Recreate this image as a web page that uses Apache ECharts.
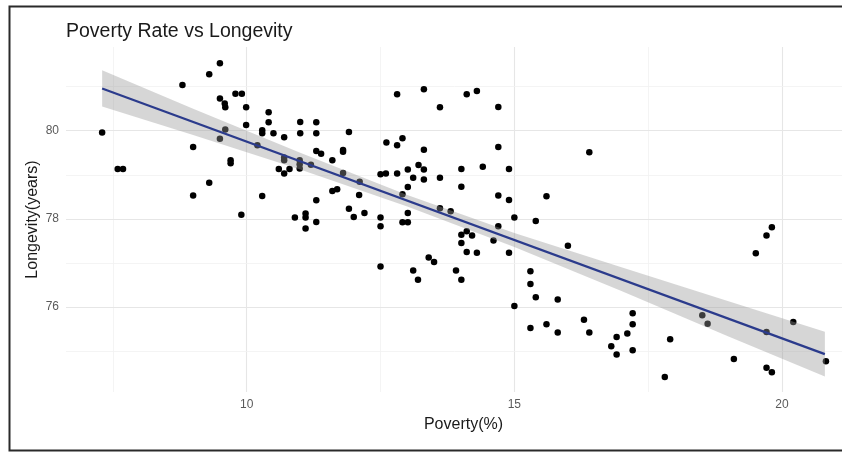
<!DOCTYPE html>
<html>
<head>
<meta charset="utf-8">
<title>Poverty Rate vs Longevity</title>
<script src="https://cdn.jsdelivr.net/npm/echarts@6/dist/echarts.min.js"></script>
<style>
  html, body { margin: 0; padding: 0; background: #ffffff; }
  #chart { width: 842px; height: 452px; }
</style>
</head>
<body>
<div id="chart"></div>
<script>
// Poverty rate (%) per state/county and the matching life expectancy (years)
const poverty = [
  7.30, 7.59, 7.69, 8.80, 9.00, 9.00, 9.30, 9.30, 9.50, 9.50,
  9.59, 9.60, 9.60, 9.50, 9.70, 9.70, 9.79, 9.91, 9.99, 9.99,
  9.90, 10.29, 10.29, 10.29, 10.41, 10.41, 10.50, 10.20, 10.70, 10.60,
  10.70, 10.80, 10.70, 10.70, 11.00, 11.00, 10.99, 10.99, 10.99, 11.30,
  11.30, 11.30, 11.39, 11.20, 11.60, 11.60, 11.69, 11.30, 10.90, 11.10,
  11.10, 11.10, 11.30,
  11.80, 11.80, 11.91, 11.80, 12.11, 12.10, 11.91, 12.00, 12.20, 12.50,
  12.50, 12.50, 12.61, 12.81, 12.81, 12.91, 12.50, 12.60, 12.81, 13.01,
  13.11, 13.01, 12.91, 13.01, 12.91, 13.01, 13.21, 13.31, 13.31, 13.31,
  13.31, 13.61, 13.61, 13.61, 13.81, 13.40, 13.50, 14.01, 14.01, 14.11,
  14.30, 14.41, 14.70, 14.70, 14.70, 14.90, 14.90, 15.00, 14.01, 14.11,
  14.21, 14.01, 14.11, 14.30, 14.61, 14.70, 14.90, 15.40, 15.60, 16.00,
  16.40, 13.11, 13.20, 13.91, 14.01, 15.00, 15.30, 15.30, 15.40, 15.81,
  15.30, 15.60, 15.81, 16.30, 16.40,
  19.51, 19.71, 19.81, 17.21, 17.21, 17.11, 16.91, 16.81, 16.91, 17.21,
  17.91, 17.81, 18.51, 18.61, 19.10, 19.71, 19.71, 19.81, 20.21, 20.82
];
const longevity = [
  79.96, 79.13, 79.13, 81.04, 79.63, 78.53, 81.28, 78.82, 81.53, 80.73,
  80.62, 80.53, 80.03, 79.82, 79.33, 79.26, 80.84, 80.84, 80.53, 80.13,
  78.09, 78.52, 80.01, 79.94, 80.42, 80.19, 79.94, 79.67, 79.85, 79.13,
  79.03, 79.13, 79.39, 79.33, 80.20, 79.94, 79.33, 79.24, 79.14, 80.19,
  79.94, 79.54, 79.48, 79.23, 79.33, 78.63, 78.67, 78.42, 78.03, 78.12,
  78.03, 77.78, 77.93,
  79.56, 79.52, 79.97, 79.04, 78.84, 78.54, 78.23, 78.04, 78.13, 78.03,
  77.83, 76.92, 79.73, 80.83, 79.67, 79.83, 79.01, 79.03, 79.03, 79.12,
  78.93, 78.72, 78.56, 78.13, 77.92, 77.92, 79.22, 79.12, 78.89, 79.57,
  80.94, 80.53, 78.93, 78.24, 78.17, 77.12, 77.02, 79.13, 78.73, 80.83,
  80.90, 79.18, 80.54, 79.63, 78.53, 79.13, 78.43, 78.03, 77.64, 77.72,
  77.62, 77.45, 77.25, 77.23, 77.51, 77.83, 77.23, 77.95, 78.51, 77.39,
  79.51, 76.83, 76.62, 76.83, 76.62, 76.02, 76.81, 76.52, 76.22, 76.17,
  75.52, 75.61, 75.42, 75.71, 75.42,
  77.22, 77.62, 77.81, 75.86, 75.61, 75.40, 75.32, 75.11, 74.92, 75.02,
  75.27, 74.41, 75.81, 75.62, 74.82, 75.43, 74.62, 74.52, 75.66, 74.77
];

// Linear fit (end points) and its confidence band
const fitX = [7.3, 20.8];
const fitY = [80.96, 74.93];
const bandX    = [7.3,   9.0,   11.0,  13.0,  15.0,  17.0,  19.0,  20.8];
const bandLow  = [80.55, 79.90, 79.12, 78.28, 77.36, 76.36, 75.33, 74.42];
const bandHigh = [81.37, 80.50, 79.50, 78.54, 77.68, 76.90, 76.13, 75.44];

// Axis ticks and grid lines
const xTicks = [10, 15, 20];
const xMinorGrid = [7.5, 12.5, 17.5];
const yTicks = [76, 78, 80];
const yMinorGrid = [75, 77, 79, 81];

const chart = echarts.init(document.getElementById('chart'), null, { renderer: 'canvas' });

const points = poverty.map((p, i) => [p, longevity[i]]);
const fitLine = fitX.map((x, i) => [x, fitY[i]]);

const majorLine = { color: '#e6e6e6', width: 1.1, type: 'solid' };
const minorLine = { color: '#f1f1f1', width: 0.8, type: 'solid' };
const gridLines = []
  .concat(xTicks.map(v => ({ xAxis: v, lineStyle: majorLine })))
  .concat(xMinorGrid.map(v => ({ xAxis: v, lineStyle: minorLine })))
  .concat(yTicks.map(v => ({ yAxis: v, lineStyle: majorLine })))
  .concat(yMinorGrid.map(v => ({ yAxis: v, lineStyle: minorLine })));

const font = '"Liberation Sans", Arial, Helvetica, sans-serif';

chart.setOption({
  animation: false,
  backgroundColor: '#ffffff',
  title: {
    text: 'Poverty Rate vs Longevity',
    left: 61,
    top: 17,
    textStyle: { fontFamily: font, fontSize: 19.5, fontWeight: 'normal', color: '#1a1a1a' }
  },
  graphic: [{
    type: 'rect',
    left: 7,
    top: 4,
    shape: { width: 850, height: 444 },
    style: { fill: 'none', stroke: '#2a2a2a', lineWidth: 2 },
    silent: true
  }],
  // the panel runs past the right edge of the canvas
  grid: { left: 66, width: 795, top: 47, bottom: 60, outerBoundsMode: 'none', containLabel: false },
  xAxis: {
    type: 'value',
    min: 6.625,
    max: 21.475,
    name: 'Poverty(%)',
    nameLocation: 'middle',
    nameGap: 25,
    nameMoveOverlap: false,
    nameTextStyle: { fontFamily: font, fontSize: 16, color: '#1a1a1a' },
    axisLine: { show: false },
    axisTick: { show: false },
    splitLine: { show: false },
    axisLabel: {
      customValues: xTicks,
      margin: 7,
      fontFamily: font,
      fontSize: 12,
      color: '#5a5a5a'
    }
  },
  yAxis: {
    type: 'value',
    min: 74.07,
    max: 81.9,
    name: 'Longevity(years)',
    nameLocation: 'middle',
    nameGap: 25,
    nameMoveOverlap: false,
    nameTextStyle: { fontFamily: font, fontSize: 16, color: '#1a1a1a' },
    axisLine: { show: false },
    axisTick: { show: false },
    splitLine: { show: false },
    axisLabel: {
      customValues: yTicks,
      margin: 7,
      fontFamily: font,
      fontSize: 12,
      color: '#5a5a5a'
    }
  },
  series: [
    {
      // panel grid lines
      type: 'line',
      data: [],
      silent: true,
      markLine: {
        z: 1,
        silent: true,
        symbol: ['none', 'none'],
        label: { show: false },
        emphasis: { disabled: true },
        data: gridLines
      }
    },
    {
      type: 'scatter',
      z: 3,
      data: points,
      symbolSize: 6.5,
      itemStyle: { color: '#000000', opacity: 1 },
      silent: true
    },
    {
      // confidence band, drawn over the points
      type: 'custom',
      z: 4,
      silent: true,
      data: [[bandX[0], bandHigh[0]]],
      renderItem: function (params, api) {
        const upper = bandX.map((x, i) => api.coord([x, bandHigh[i]]));
        const lower = bandX.map((x, i) => api.coord([x, bandLow[i]])).reverse();
        return {
          type: 'polygon',
          shape: { points: upper.concat(lower) },
          style: { fill: 'rgba(153,153,153,0.4)' }
        };
      }
    },
    {
      type: 'line',
      z: 5,
      data: fitLine,
      symbol: 'none',
      silent: true,
      lineStyle: { color: '#2b3b8c', width: 2.2 }
    }
  ]
});
</script>
</body>
</html>
